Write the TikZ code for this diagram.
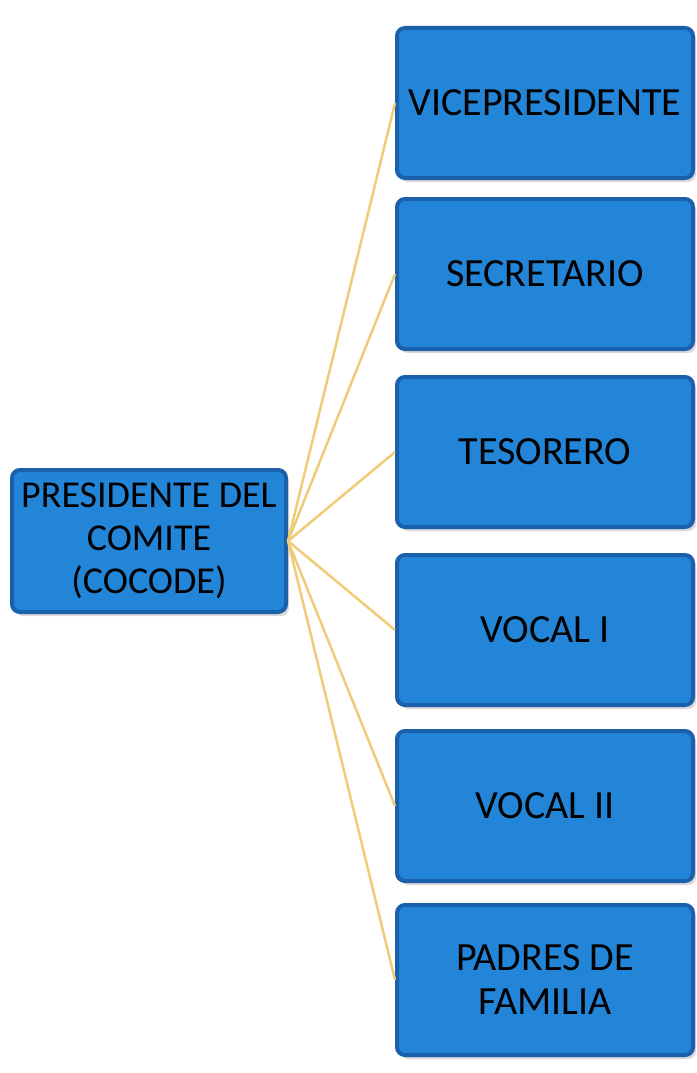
\documentclass[tikz,border=0pt]{standalone}
\usepackage{fontspec}
\setmainfont{Carlito}
\usetikzlibrary{positioning,shadows}

\begin{document}
\begin{tikzpicture}[x=1pt,y=-1pt,
  cargo/.style={draw=boxedge, line width=4pt, fill=boxblue, rounded corners=8pt,
    minimum width=296pt, minimum height=150pt, align=center, text=black,
    font=\fontsize{40}{44}\selectfont, drop shadow={opacity=0.3, shadow xshift=3pt, shadow yshift=-4pt}},
  rama/.style={draw=ramagold, line width=2.5pt}]
\definecolor{boxblue}{HTML}{2385D8}
\definecolor{boxedge}{HTML}{1A60AA}
\definecolor{ramagold}{HTML}{F0CB78}
\useasboundingbox (0,0) rectangle (696,1073);
\node[cargo, minimum width=274pt, minimum height=142pt, font=\fontsize{38}{43}\selectfont] (pres) at (149,541) {PRESIDENTE DEL\\COMITE\\(COCODE)};
\node[cargo] (vice) at (545,103) {VICEPRESIDENTE};
\node[cargo] (secr) at (545,274) {SECRETARIO};
\node[cargo] (teso) at (545,452) {TESORERO};
\node[cargo] (voc1) at (545,630) {VOCAL I};
\node[cargo] (voc2) at (545,806) {VOCAL II};
\node[cargo] (padr) at (545,980) {PADRES DE\\FAMILIA};
\foreach \n in {vice,secr,teso,voc1,voc2,padr}
  \draw[rama] (pres.east) -- (\n.west);
\end{tikzpicture}
\end{document}
